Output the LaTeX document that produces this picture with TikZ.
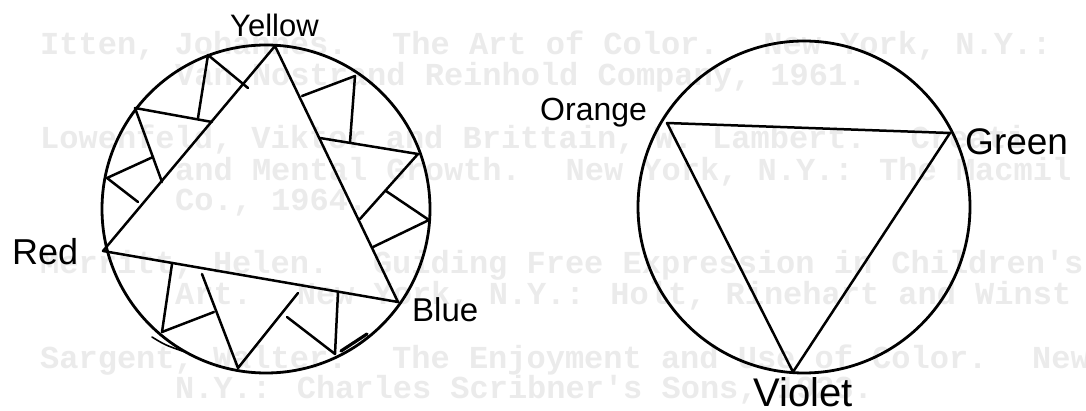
\documentclass[tikz,border=0pt]{standalone}
\usepackage{fontspec}
\newfontfamily\handfont{Liberation Sans}
\newfontfamily\typefont{Liberation Mono}
\tikzset{
  pen/.style={line width=2.5pt, line cap=round, line join=round, black},
  rim/.style={line width=2.8pt, black},
  lab/.style={inner sep=0pt, anchor=base west},
  ghost/.style={inner sep=0pt, anchor=base west, text=black!8,
    font=\typefont\bfseries\fontsize{32}{32}\selectfont},
}
\begin{document}
\begin{tikzpicture}[x=1pt,y=-1pt]
\useasboundingbox (0,0) rectangle (1086,411);
\fill[white] (0,0) rectangle (1086,411);

% faint show-through typewritten text
\node[ghost] (g1) at (40,55)  {Itten, Johannes.~ The Art of Color.~ New York, N.Y.:};
\node[ghost] (g2) at (175,86) {Van Nostrand Reinhold Company, 1961.};
\node[ghost] (g3) at (40,149) {Lowenfeld, Viktor and Brittain, W. Lambert.~ Creati};
\node[ghost] (g4) at (175,181) {and Mental Growth.~ New York, N.Y.: The Macmil};
\node[ghost] (g5) at (175,211) {Co., 1964.};
\node[ghost] (g6) at (40,274) {Merritt, Helen.~ Guiding Free Expression in Children's};
\node[ghost] (g7) at (175,305) {Art.~ New York, N.Y.: Holt, Rinehart and Winst};
\node[ghost] (g8) at (40,368) {Sargent, Walter.~ The Enjoyment and Use of Color.~ New};
\node[ghost] (g9) at (175,398) {N.Y.: Charles Scribner's Sons, 1923.};

% ---------- left colour wheel ----------
\coordinate (lc) at (266,209);
\draw[rim] (lc) circle[radius=164];
\coordinate (Y) at (275,46);
\coordinate (R) at (103,251);
\coordinate (B) at (398,302);
\draw[pen] (Y) -- (R) -- (B) -- cycle;

% upper-left side
\coordinate (p1) at (208,55);
\coordinate (e1) at (248,88);
\coordinate (p2) at (135,108);
\coordinate (e2) at (212,122);
\coordinate (q1) at (198,118);
\coordinate (e3) at (162,182);
\coordinate (m3) at (153,157);
\coordinate (p3) at (107,178);
\coordinate (t3) at (138,202);
\draw[pen] (e1) -- (p1) -- (q1);
\draw[pen] (e2) -- (p2) -- (e3);
\draw[pen] (m3) -- (p3) -- (t3);

% right side
\coordinate (e4) at (302,96);
\coordinate (p4) at (355,76);
\coordinate (e5) at (320,138);
\coordinate (p5) at (418,154);
\coordinate (q4) at (350,142);
\coordinate (e6) at (360,219);
\coordinate (m6) at (386,191);
\coordinate (p6) at (429,220);
\coordinate (e7) at (373,247);
\draw[pen] (e4) -- (p4) -- (q4);
\draw[pen] (e5) -- (p5) -- (e6);
\draw[pen] (m6) -- (p6) -- (e7);

% bottom side
\coordinate (e8) at (172,264);
\coordinate (p8) at (162,332);
\coordinate (q8) at (214,312);
\coordinate (t9) at (202,274);
\coordinate (p9) at (238,368);
\coordinate (t10) at (298,293);
\coordinate (t11) at (287,317);
\coordinate (p11) at (335,354);
\coordinate (e11) at (338,292);
\draw[pen] (e8) -- (p8) -- (q8);
\draw[pen] (t9) -- (p9) -- (t10);
\draw[pen] (t11) -- (p11) -- (e11);

% pen overstrokes on the rim
\draw[line width=1.6pt, line cap=round] (152,337) .. controls (165,345) .. (185,352);
\draw[line width=3.2pt, line cap=round] (341,351) -- (367,334);

% ---------- right colour wheel ----------
\coordinate (rc) at (804,207);
\draw[rim] (rc) circle[radius=166];
\coordinate (O) at (667,123);
\coordinate (G) at (950,133);
\coordinate (V) at (793,372);
\draw[pen] (O) -- (G) -- (V) -- cycle;

% ---------- labels ----------
\node[lab, font=\handfont\fontsize{31}{31}\selectfont] (ly) at (230,37)  {Yellow};
\node[lab, font=\handfont\fontsize{36}{36}\selectfont] (lr) at (12,265)  {Red};
\node[lab, font=\handfont\fontsize{33}{33}\selectfont] (lb) at (412,322) {Blue};
\node[lab, font=\handfont\fontsize{32}{32}\selectfont] (lo) at (540,121) {Orange};
\node[lab, font=\handfont\fontsize{37}{37}\selectfont] (lg) at (965,155) {Green};
\node[lab, font=\handfont\fontsize{40}{40}\selectfont] (lv) at (753,406) {Violet};
\end{tikzpicture}
\end{document}
